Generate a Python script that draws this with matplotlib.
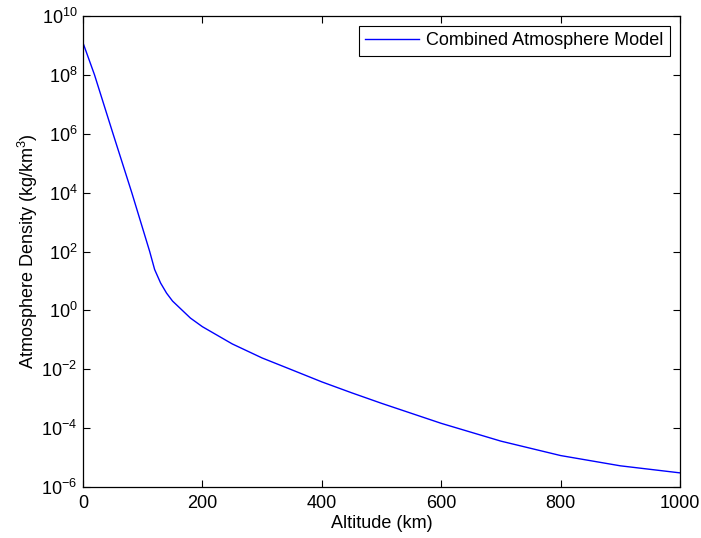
import numpy as np
import matplotlib.pyplot as plt
from matplotlib.ticker import FixedLocator, NullLocator, LogFormatterMathtext

# altitude (km) and density (kg/km^3)
altitude = [0, 19.3, 50.3, 81.7, 111.7, 120, 130, 140, 150,
            180, 200, 250, 300, 350, 400, 450, 500, 600, 700, 800, 900, 1000]
density = [1.225e9, 1.0e8, 1.0e6, 1.0e4, 1.0e2, 2.438e1, 8.484, 3.845, 2.070,
           5.464e-1, 2.789e-1, 7.248e-2, 2.418e-2, 9.518e-3, 3.725e-3,
           1.585e-3, 6.967e-4, 1.454e-4, 3.614e-5, 1.170e-5, 5.245e-6, 3.019e-6]

xticks = [0, 200, 400, 600, 800, 1000]
yticks = [10.0 ** k for k in range(-6, 11, 2)]

plt.rcParams['font.family'] = ['Liberation Sans', 'DejaVu Sans']
plt.rcParams['mathtext.fontset'] = 'custom'
plt.rcParams['mathtext.rm'] = 'Liberation Sans'
plt.rcParams['mathtext.it'] = 'Liberation Sans'

fig = plt.figure(figsize=(7.01, 5.38), dpi=100)
ax = fig.add_axes([83 / 701, 1 - 487 / 538, (680 - 83) / 701, (487 - 16) / 538])

ax.plot(altitude, density, color='#0000ff', lw=1, label='Combined Atmosphere Model')
ax.set_yscale('log')
ax.set_xlim(0, 1000)
ax.set_ylim(1e-6, 1e10)

ax.xaxis.set_major_locator(FixedLocator(xticks))
ax.yaxis.set_major_locator(FixedLocator(yticks))
ax.yaxis.set_minor_locator(NullLocator())
ax.yaxis.set_major_formatter(LogFormatterMathtext())
ax.tick_params(which='both', direction='in', top=True, right=True,
               length=5, width=0.8, labelsize=13, pad=4)
ax.tick_params(axis='x', pad=6)

for s in ax.spines.values():
    s.set_linewidth(0.9)

ax.set_xlabel('Altitude (km)', fontsize=13, labelpad=2)
ax.set_ylabel('Atmosphere Density (kg/km$^3$)', fontsize=13, labelpad=1)

leg = ax.legend(loc='upper right', fontsize=13, fancybox=False, framealpha=1,
                edgecolor='black', borderaxespad=0.55, handlelength=3.0,
                handletextpad=0.4, borderpad=0.35)
leg.get_frame().set_linewidth(0.8)

fig.savefig('out.png', dpi=100)
